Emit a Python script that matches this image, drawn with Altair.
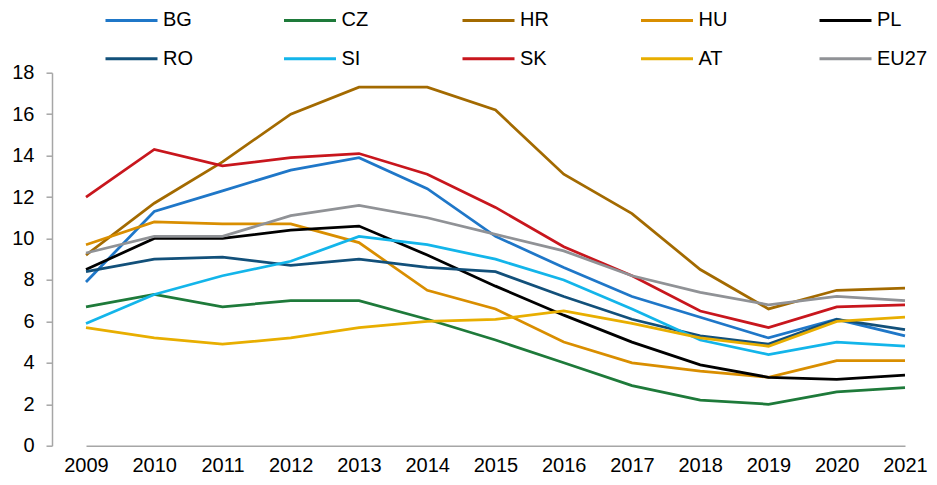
import altair as alt
import pandas as pd

years = [str(y) for y in range(2009, 2022)]

BG = [7.9, 11.3, 12.3, 13.3, 13.9, 12.4, 10.1, 8.6, 7.2, 6.2, 5.2, 6.1, 5.3]
CZ = [6.7, 7.3, 6.7, 7.0, 7.0, 6.1, 5.1, 4.0, 2.9, 2.2, 2.0, 2.6, 2.8]
HR = [9.2, 11.7, 13.7, 16.0, 17.3, 17.3, 16.2, 13.1, 11.2, 8.5, 6.6, 7.5, 7.6]
HU = [9.7, 10.8, 10.7, 10.7, 9.8, 7.5, 6.6, 5.0, 4.0, 3.6, 3.3, 4.1, 4.1]
PL = [8.5, 10.0, 10.0, 10.4, 10.6, 9.2, 7.7, 6.3, 5.0, 3.9, 3.3, 3.2, 3.4]
RO = [8.4, 9.0, 9.1, 8.7, 9.0, 8.6, 8.4, 7.2, 6.1, 5.3, 4.9, 6.1, 5.6]
SI = [5.9, 7.3, 8.2, 8.9, 10.1, 9.7, 9.0, 8.0, 6.6, 5.1, 4.4, 5.0, 4.8]
SK = [12.0, 14.3, 13.5, 13.9, 14.1, 13.1, 11.5, 9.6, 8.2, 6.5, 5.7, 6.7, 6.8]
AT = [5.7, 5.2, 4.9, 5.2, 5.7, 6.0, 6.1, 6.5, 5.9, 5.2, 4.8, 6.0, 6.2]
EU27 = [9.3, 10.1, 10.1, 11.1, 11.6, 11.0, 10.2, 9.4, 8.2, 7.4, 6.8, 7.2, 7.0]

series_names = ["BG", "CZ", "HR", "HU", "PL", "RO", "SI", "SK", "AT", "EU27"]
series_values = [BG, CZ, HR, HU, PL, RO, SI, SK, AT, EU27]
colors = ["#1F77C8", "#1E7A3A", "#A36A00", "#D98E00", "#000000",
          "#12507A", "#13B5EA", "#C8161D", "#E8AE00", "#909296"]

rows = []
for name, vals in zip(series_names, series_values):
    for yr, v in zip(years, vals):
        rows.append({"year": yr, "country": name, "value": v})
df = pd.DataFrame(rows)

FONT = "Liberation Sans"

chart = alt.Chart(df).mark_line(strokeWidth=2.75).encode(
    x=alt.X("year:O", title=None, sort=years,
            scale=alt.Scale(type="point", range=[34, 853], padding=0),
            axis=alt.Axis(labelAngle=0, ticks=False, labelPadding=10,
                          domainColor="#A6A6A6", domainWidth=1.5,
                          labelFontSize=20, labelFont=FONT, labelColor="#000000")),
    y=alt.Y("value:Q", title=None,
            scale=alt.Scale(domain=[0, 18], nice=False),
            axis=alt.Axis(values=list(range(0, 19, 2)), grid=False,
                          tickSize=6, tickColor="#A6A6A6", tickWidth=1.5,
                          domainColor="#A6A6A6", domainWidth=1.5,
                          labelPadding=12, labelFontSize=20, labelFont=FONT,
                          labelColor="#000000")),
    color=alt.Color("country:N", sort=series_names,
                    scale=alt.Scale(domain=series_names, range=colors),
                    legend=alt.Legend(title=None, orient="none", legendX=52, legendY=-80,
                                      direction="horizontal", columns=5,
                                      symbolType="stroke", symbolSize=2704,
                                      symbolStrokeWidth=3, labelFontSize=20,
                                      labelFont=FONT, labelColor="#000000",
                                      labelOffset=4, gridAlign="all",
                                      columnPadding=63.5, rowPadding=0.5)),
).properties(width=877, height=373,
             autosize=alt.AutoSizeParams(type="none"),
             padding={"left": 44, "top": 64.7, "right": 0, "bottom": 31.3}
).configure_view(stroke=None)

chart.save("out.html", embed_options={"renderer": "svg", "actions": False})
